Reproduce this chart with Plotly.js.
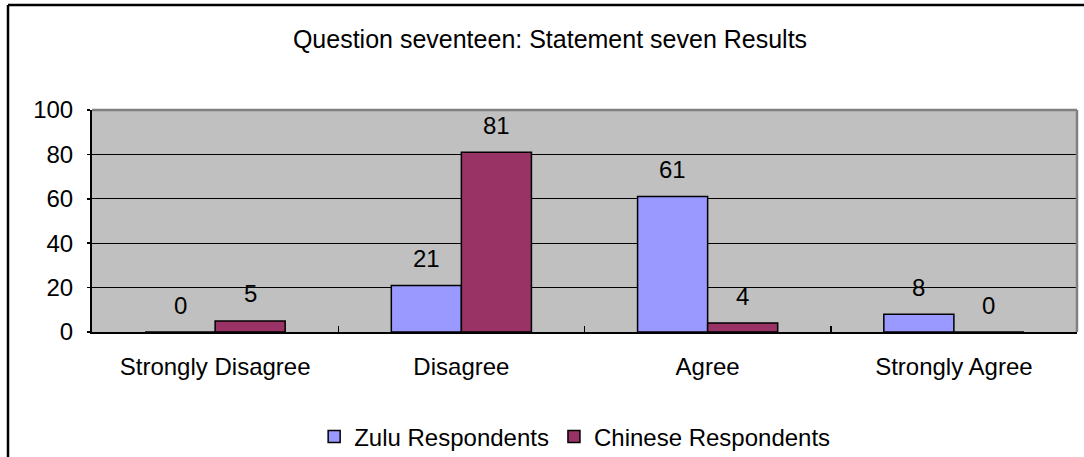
<!DOCTYPE html>
<html>
<head>
<meta charset="utf-8">
<script src="https://cdn.plot.ly/plotly-3.0.1.min.js"></script>
<style>
  html, body { margin: 0; padding: 0; background: #ffffff; }
  #chart { width: 1084px; height: 457px; }
</style>
</head>
<body>
<div id="chart"></div>
<script>
// Survey responses per answer category (percent of respondents)
const categories = ["Strongly Disagree", "Disagree", "Agree", "Strongly Agree"];
const zuluValues = [0, 21, 61, 8];
const chineseValues = [5, 81, 4, 0];
const seriesNames = ["Zulu Respondents", "Chinese Respondents"];
const yTicks = [0, 20, 40, 60, 80, 100];

const FONT = "Liberation Sans, Arial, sans-serif";
const zuluColor = "#9999FF";
const chineseColor = "#993366";

const traces = [
  {
    type: "bar",
    name: seriesNames[0],
    x: categories,
    y: zuluValues,
    marker: { color: zuluColor, line: { color: "#000000", width: 1.5 } },
    hoverinfo: "x+y+name"
  },
  {
    type: "bar",
    name: seriesNames[1],
    x: categories,
    y: chineseValues,
    marker: { color: chineseColor, line: { color: "#000000", width: 1.5 } },
    hoverinfo: "x+y+name"
  }
];

// Value labels above each bar, offset left/right to sit over its own bar
const barShift = 35;
const annotations = [];
[zuluValues, chineseValues].forEach(function (vals, s) {
  vals.forEach(function (v, i) {
    annotations.push({
      x: categories[i], y: v, xref: "x", yref: "y",
      text: String(v), showarrow: false,
      xshift: s === 0 ? -barShift : barShift,
      yshift: 27, yanchor: "middle", xanchor: "center",
      font: { family: FONT, size: 24, color: "#000000" }
    });
  });
});

const layout = {
  width: 1084,
  height: 457,
  margin: { l: 92, r: 7, t: 110, b: 125, pad: 0, autoexpand: false },
  paper_bgcolor: "#ffffff",
  plot_bgcolor: "#C0C0C0",
  font: { family: FONT, size: 24, color: "#000000" },
  title: {
    text: "Question seventeen: Statement seven Results",
    font: { family: FONT, size: 25, color: "#000000" },
    xref: "container", x: 550 / 1084, xanchor: "center",
    yref: "container", y: 0.914, yanchor: "middle"
  },
  barmode: "group",
  bargap: 0.431,
  bargroupgap: 0,
  showlegend: true,
  legend: {
    orientation: "h",
    x: 0.49, xanchor: "center",
    y: -0.473, yanchor: "middle",
    font: { family: FONT, size: 24, color: "#000000" },
    bgcolor: "rgba(0,0,0,0)",
    itemwidth: 30,
    traceorder: "normal"
  },
  xaxis: {
    type: "category",
    showgrid: false,
    showline: true, linecolor: "#000000", linewidth: 2,
    ticks: "inside", tickson: "boundaries", ticklen: 6,
    tickcolor: "#000000", tickwidth: 1.5,
    ticklabelstandoff: 12,
    tickfont: { family: FONT, size: 24, color: "#000000" },
    fixedrange: true
  },
  yaxis: {
    range: [0, 100],
    tickvals: yTicks,
    ticktext: yTicks.map(String),
    showgrid: true, gridcolor: "#000000", gridwidth: 1.2,
    zeroline: false,
    showline: true, linecolor: "#000000", linewidth: 2,
    ticks: "outside", ticklen: 3, tickcolor: "#000000", tickwidth: 1.5,
    ticklabelstandoff: 9,
    tickfont: { family: FONT, size: 24, color: "#000000" },
    fixedrange: true
  },
  annotations: annotations,
  shapes: [
    // grey frame on the top and right of the plotting area
    { type: "line", xref: "paper", yref: "paper", x0: 0, x1: 1, y0: 1, y1: 1,
      line: { color: "#808080", width: 2.5 }, layer: "above" },
    { type: "line", xref: "paper", yref: "paper", x0: 1, x1: 1, y0: 0, y1: 1,
      line: { color: "#808080", width: 2.5 }, layer: "above" },
    // black outer chart border (left and top edges)
    { type: "line", xref: "paper", yref: "paper",
      x0: -84 / 985, x1: -84 / 985, y0: 327 / 222, y1: -130 / 222,
      line: { color: "#000000", width: 2.5 }, layer: "above" },
    { type: "line", xref: "paper", yref: "paper",
      x0: -84 / 985, x1: 1.1, y0: 327 / 222, y1: 327 / 222,
      line: { color: "#000000", width: 2.5 }, layer: "above" }
  ]
};

Plotly.newPlot("chart", traces, layout, { staticPlot: true, displayModeBar: false });
</script>
</body>
</html>
